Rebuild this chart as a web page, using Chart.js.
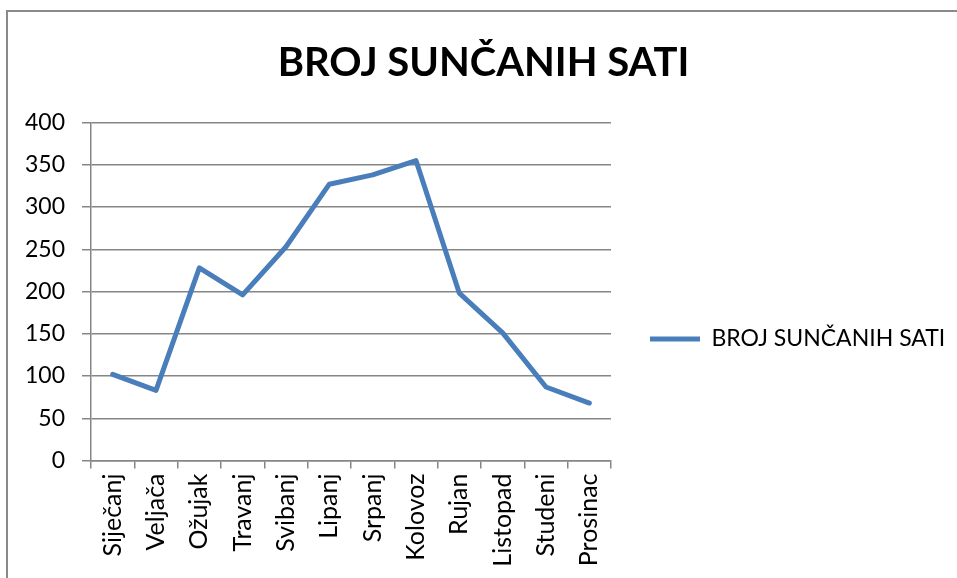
<!DOCTYPE html>
<html>
<head>
<meta charset="utf-8">
<script src="https://cdn.jsdelivr.net/npm/chart.js@4.4.1/dist/chart.umd.min.js"></script>
<style>
    html, body { margin: 0; padding: 0; background: #fff; overflow: hidden; }
    #frame { position: absolute; left: 6px; top: 10px; width: 2000px; height: 2000px; border: 2px solid #8a8a8a; }
    #wrap { position: absolute; left: 0; top: 0; width: 957px; height: 578px; }
</style>
</head>
<body>
<div id="frame"></div>
<div id="wrap"><canvas id="sun_hours" width="957" height="578"></canvas></div>
<script>
var months = ['Siječanj','Veljača','Ožujak','Travanj','Svibanj','Lipanj','Srpanj','Kolovoz','Rujan','Listopad','Studeni','Prosinac'];
var sunHours = [102, 83, 228, 196, 253, 327, 338, 355, 198, 151, 87, 68];
var yTicks = [0, 50, 100, 150, 200, 250, 300, 350, 400];
var seriesName = 'BROJ SUNČANIH SATI';

// keep legend to the right of the plot, level with the middle of the labels
var legendSpot = {
    id: 'legendSpot',
    beforeLayout: function(chart){
        var lg = chart.legend;
        if (lg && !lg._patched){
            var fit = lg.fit;
            lg.fit = function(){ fit.call(this); this.width = 346; };
            lg._patched = true;
        }
    },
    afterLayout: function(chart){
        var lg = chart.legend;
        var h = lg.bottom - lg.top;
        lg.top = 339 - h / 2;
        lg.bottom = lg.top + h;
    }
};

var ctx = document.getElementById('sun_hours').getContext('2d');
var myChart = new Chart(ctx, {
    type: 'line',
    data: {
        labels: months,
        datasets: [{
            label: seriesName,
            data: sunHours,
            borderColor: '#4a7ebb',
            backgroundColor: '#4a7ebb',
            borderWidth: 5,
            borderJoinStyle: 'round',
            borderCapStyle: 'round',
            pointRadius: 0,
            pointStyle: 'line',
            tension: 0,
            fill: false
        }]
    },
    options: {
        responsive: false,
        animation: false,
        layout: { padding: { left: 10, top: 0, right: 0, bottom: 0 } },
        scales: {
            y: {
                min: 0,
                max: 400,
                afterFit: function(scale){ scale.width = 81; },
                afterBuildTicks: function(scale){
                    scale.ticks = yTicks.map(function(v){ return {value: v}; });
                },
                border: { color: '#868686', width: 1.5 },
                grid: { color: '#868686', lineWidth: 1.5, tickLength: 9 },
                ticks: {
                    padding: 17,
                    color: '#000',
                    font: { family: 'Lato', size: 23 }
                }
            },
            x: {
                offset: true,
                afterFit: function(scale){ scale.height = 117.5; },
                border: { color: '#868686', width: 1.5 },
                grid: { drawOnChartArea: false, color: '#868686', lineWidth: 1.5, tickLength: 8, offset: true },
                ticks: {
                    padding: 5,
                    minRotation: 90,
                    maxRotation: 90,
                    autoSkip: false,
                    color: '#000',
                    font: { family: 'Lato', size: 25 }
                }
            }
        },
        plugins: {
            title: {
                display: true,
                text: seriesName,
                color: '#000',
                font: { family: 'Lato', size: 40, weight: 'bold' },
                padding: { top: 39, bottom: 35.5 }
            },
            legend: {
                display: true,
                position: 'right',
                labels: {
                    usePointStyle: true,
                    pointStyleWidth: 50,
                    padding: 39,
                    color: '#000',
                    font: { family: 'Lato', size: 23 }
                }
            },
            tooltip: { enabled: false }
        }
    },
    plugins: [legendSpot]
});
</script>
</body>
</html>
